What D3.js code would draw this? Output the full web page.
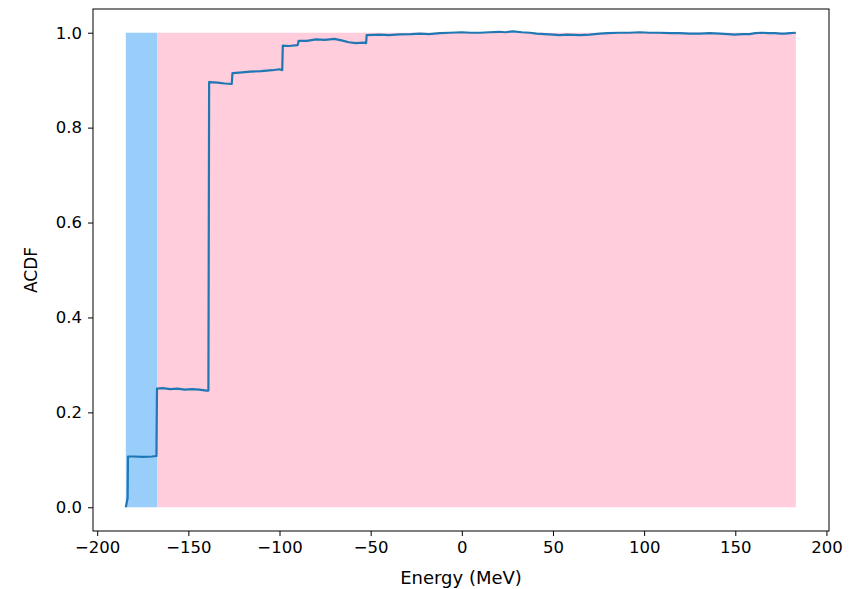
<!DOCTYPE html>
<html>
<head>
<meta charset="utf-8">
<script src="https://cdn.jsdelivr.net/npm/d3@7"></script>
<style>
    body { margin: 0; background: #fff; }
    svg text { font-family: "DejaVu Sans", sans-serif; fill: #000; }
</style>
</head>
<body>
<div id="chart"></div>
<script>
// energy bands (MeV)
let blueBand = [-184.3, -167.2];
let pinkBand = [-167.2, 183.2];

// ACDF curve
let energy = [-184.3, -183.3, -183.1, -180, -175, -170, -167.5, -167.2,
    -164, -160, -156, -152, -148, -144, -140, -139.0, -138.6,
    -134, -130, -126.2, -125.8, -122, -116, -110, -104, -100, -98.5, -98.2,
    -95, -90, -89.5, -85, -80, -75, -70, -66, -62, -58, -54, -52.5, -52.2,
    -45, -40, -34, -28, -23, -18, -12, -6.6, 0, 5, 9.9, 15, 20.8, 24, 28, 33, 37.3,
    41, 45.5, 50, 53.7, 58, 64.7, 70, 75.7, 80, 86.6, 92, 97.6, 103, 108.6, 114,
    119.5, 125, 130.5, 136, 141.5, 146, 149.7, 154, 157.9, 161, 164.5, 168, 171.6,
    175, 177, 180, 183.2];
let acdf = [0, 0.02, 0.107, 0.107, 0.106, 0.107, 0.108, 0.25,
    0.251, 0.249, 0.25, 0.248, 0.249, 0.248, 0.246, 0.246, 0.896,
    0.895, 0.893, 0.892, 0.915, 0.916, 0.918, 0.919, 0.921, 0.923, 0.921, 0.973,
    0.972, 0.974, 0.983, 0.983, 0.986, 0.985, 0.987, 0.984, 0.980, 0.978, 0.979, 0.978, 0.995,
    0.996, 0.995, 0.9965, 0.997, 0.998, 0.997, 0.999, 1.0, 1.001, 1.0, 1.0, 1.001, 1.002, 1.001, 1.003, 1.001, 1.0,
    0.998, 0.997, 0.996, 0.995, 0.996, 0.995, 0.996, 0.998, 0.999, 1.0, 1.0, 1.001, 1.0, 1.0, 0.999,
    0.999, 0.998, 0.998, 0.999, 0.998, 0.997, 0.996, 0.997, 0.997, 0.999, 1.0, 0.999, 0.999,
    0.998, 0.998, 0.999, 1.0];

let xTicks = [-200, -150, -100, -50, 0, 50, 100, 150, 200];
let yTicks = [0.0, 0.2, 0.4, 0.6, 0.8, 1.0];

let width = 856, height = 589;
let margin = {top: 9, right: 27, bottom: 58, left: 93};

let svg = d3.select("#chart").append("svg")
    .attr("width", width)
    .attr("height", height);

let x = d3.scaleLinear()
    .domain([-202.3, 201.4])
    .range([margin.left, width - margin.right]);

let y = d3.scaleLinear()
    .domain([-0.05, 1.05])
    .range([height - margin.bottom, margin.top]);

// shaded bands
svg.append("rect")
    .attr("x", x(blueBand[0]))
    .attr("y", y(1))
    .attr("width", x(blueBand[1]) - x(blueBand[0]))
    .attr("height", y(0) - y(1))
    .attr("fill", "#98cef9");

svg.append("rect")
    .attr("x", x(pinkBand[0]))
    .attr("y", y(1))
    .attr("width", x(pinkBand[1]) - x(pinkBand[0]))
    .attr("height", y(0) - y(1))
    .attr("fill", "#ffcddb");

// curve
let points = energy.map((e, i) => [e, acdf[i]]);
let line = d3.line()
    .x(d => x(d[0]))
    .y(d => y(d[1]));

svg.append("path")
    .datum(points)
    .attr("d", line)
    .attr("fill", "none")
    .attr("stroke", "#1f77b4")
    .attr("stroke-width", 2.2)
    .attr("stroke-linejoin", "round");

// axes
let xAxis = d3.axisBottom(x)
    .tickValues(xTicks)
    .tickSize(5)
    .tickPadding(5)
    .tickFormat(d => d < 0 ? "\u2212" + Math.abs(d) : d);

let yAxis = d3.axisLeft(y)
    .tickValues(yTicks)
    .tickSize(5)
    .tickPadding(6)
    .tickFormat(d3.format(".1f"));

let gx = svg.append("g")
    .attr("transform", `translate(0, ${height - margin.bottom})`)
    .call(xAxis);

let gy = svg.append("g")
    .attr("transform", `translate(${margin.left}, 0)`)
    .call(yAxis);

[gx, gy].forEach(g => {
    g.select(".domain").remove();
    g.selectAll(".tick line").attr("stroke", "#000").attr("stroke-width", 1);
    g.selectAll(".tick text").attr("font-size", "16.5px").attr("fill", "#222");
});

// frame
svg.append("rect")
    .attr("x", margin.left)
    .attr("y", margin.top)
    .attr("width", width - margin.left - margin.right)
    .attr("height", height - margin.top - margin.bottom)
    .attr("fill", "none")
    .attr("stroke", "#000")
    .attr("stroke-width", 1);

// labels
svg.append("text")
    .attr("x", (margin.left + width - margin.right) / 2)
    .attr("y", 584)
    .attr("text-anchor", "middle")
    .attr("font-size", "18px")
    .attr("fill", "#222")
    .text("Energy (MeV)");

svg.append("text")
    .attr("transform", `translate(37, ${(margin.top + height - margin.bottom) / 2}) rotate(-90)`)
    .attr("text-anchor", "middle")
    .attr("font-size", "17px")
    .attr("fill", "#222")
    .text("ACDF");
</script>
</body>
</html>
